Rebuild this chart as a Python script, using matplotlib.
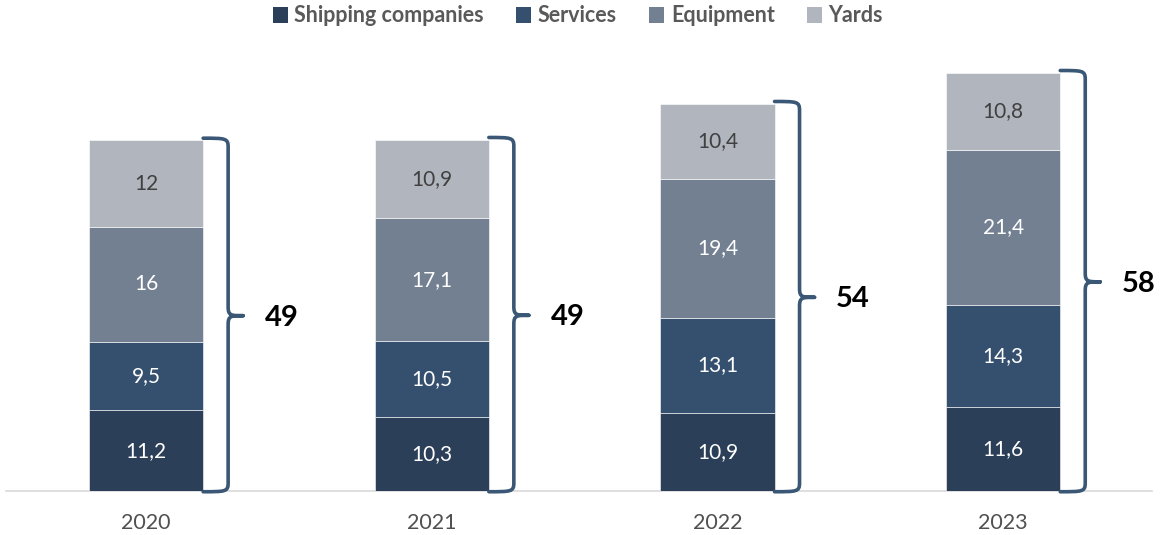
import matplotlib
matplotlib.use("Agg")
import matplotlib.pyplot as plt
from matplotlib.path import Path
from matplotlib.patches import PathPatch, Patch
import numpy as np

plt.rcParams['font.family'] = ['Lato', 'DejaVu Sans']

years = ["2020", "2021", "2022", "2023"]
series_names = ["Shipping companies", "Services", "Equipment", "Yards"]
shipping = [11.2, 10.3, 10.9, 11.6]
services = [9.5, 10.5, 13.1, 14.3]
equipment = [16, 17.1, 19.4, 21.4]
yards = [12, 10.9, 10.4, 10.8]
seg_labels = [
    ["11,2", "10,3", "10,9", "11,6"],
    ["9,5", "10,5", "13,1", "14,3"],
    ["16", "17,1", "19,4", "21,4"],
    ["12", "10,9", "10,4", "10,8"],
]
totals = ["49", "49", "54", "58"]

colors = ["#2C3F58", "#35506E", "#738092", "#B0B5BE"]
label_colors = ["white", "white", "white", "#404040"]

fig = plt.figure(figsize=(11.61, 5.35), dpi=100)
ax = fig.add_axes([0, 44/535, 1, 491/535])
x = np.arange(len(years))
ax.set_xlim(-146/285.7, (1161-146)/285.7)
ax.set_ylim(0, 491/7.2)

data = [shipping, services, equipment, yards]
bottom = np.zeros(len(years))
for vals, col, lc, labs in zip(data, colors, label_colors, seg_labels):
    vals = np.array(vals, dtype=float)
    ax.bar(x, vals, width=0.4, bottom=bottom, color=col, edgecolor='white', linewidth=0.4)
    for xi, b, v, t in zip(x, bottom, vals, labs):
        ax.text(xi, b + v/2, t, ha='center', va='center', color=lc, fontsize=15)
    bottom = bottom + vals

# axis line
ax.plot([-0.49, 3.52], [0, 0], color='#D9D9D9', lw=1.2, zorder=0, clip_on=False)

# braces
bc = "#3A5876"
for xi, top, t in zip(x, bottom, totals):
    e = xi + 0.2
    v = xi + 0.2 + 0.0875
    tip = xi + 0.2 + 0.14
    r = 1.2
    mid = top / 2
    yt = top + 0.3
    yb = -0.1
    verts = [
        (e, yt), (v - 0.01, yt), (v, yt), (v, yt - r),
        (v, mid + r),
        (v, mid), (v + 0.01, mid), (tip, mid),
        (v + 0.01, mid), (v, mid), (v, mid - r),
        (v, yb + r),
        (v, yb), (v - 0.01, yb), (e, yb),
    ]
    codes = [Path.MOVETO, Path.CURVE4, Path.CURVE4, Path.CURVE4,
             Path.LINETO,
             Path.CURVE4, Path.CURVE4, Path.CURVE4,
             Path.CURVE4, Path.CURVE4, Path.CURVE4,
             Path.LINETO,
             Path.CURVE4, Path.CURVE4, Path.CURVE4]
    ax.add_patch(PathPatch(Path(verts, codes), facecolor='none', edgecolor=bc,
                           lw=2.6, capstyle='round', joinstyle='round', clip_on=False))
    ax.text(xi + 0.475, mid - 0.3, t, ha='center', va='center', fontsize=21,
            fontweight='bold', color='black')

# year labels
for xi, yr in zip(x, years):
    ax.text(xi, -4.4, yr, ha='center', va='center', fontsize=15.5, color='#505050', clip_on=False)

ax.axis('off')

handles = [Patch(facecolor=c, edgecolor='none') for c in colors]
leg = fig.legend(handles, series_names, loc='center', bbox_to_anchor=(578/1161, 1 - 16/535),
                 ncol=4, frameon=False, handlelength=0.7, handleheight=0.7,
                 handletextpad=0.3, columnspacing=1.5,
                 prop={'weight': 'bold', 'size': 15.5})
for txt in leg.get_texts():
    txt.set_color('#595959')

fig.savefig("out.png", dpi=100)
